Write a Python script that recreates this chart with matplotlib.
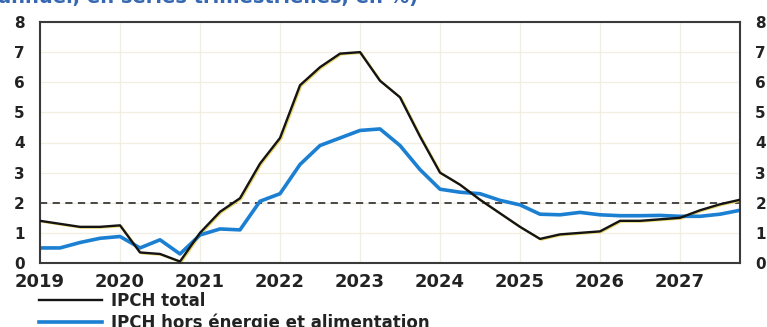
import matplotlib
matplotlib.use("Agg")
import matplotlib.pyplot as plt
import matplotlib.transforms as mtransforms
import numpy as np

# ---- data (quarterly, 2019Q1 .. 2027Q4) ----
quarters = np.arange(2019, 2028, 0.25)
ipch_total = [1.4, 1.3, 1.2, 1.2,
              1.25, 0.35, 0.3, 0.05,
              1.0, 1.7, 2.15, 3.3,
              4.15, 5.9, 6.5, 6.95,
              7.0, 6.05, 5.5, 4.2,
              3.0, 2.6, 2.1, 1.65,
              1.2, 0.8, 0.95, 1.0,
              1.05, 1.4, 1.4, 1.45,
              1.5, 1.75, 1.95, 2.1]
ipch_core = [0.5, 0.5, 0.68, 0.82,
             0.88, 0.5, 0.77, 0.3,
             0.93, 1.13, 1.1, 2.05,
             2.3, 3.27, 3.9, 4.15,
             4.4, 4.45, 3.9, 3.1,
             2.45, 2.35, 2.3, 2.08,
             1.93, 1.62, 1.6, 1.68,
             1.6, 1.57, 1.57, 1.58,
             1.55, 1.55, 1.62, 1.75]
target = 2.0
year_ticks = list(range(2019, 2028))
y_ticks = list(range(0, 9))
series_labels = ["IPCH total", "IPCH hors énergie et alimentation"]
title_text = "annuel, en séries trimestrielles, en %)"

W, H = 767, 327
fig = plt.figure(figsize=(W / 100, H / 100), dpi=100)
fig.patch.set_facecolor("white")
ax = fig.add_axes([40 / W, (H - 263) / H, 700 / W, 241 / H])

# faint grid
for yv in y_ticks:
    ax.axhline(yv, color="#f1efe2", lw=0.9, zorder=0)
for xv in year_ticks:
    ax.axvline(xv, color="#f1efe2", lw=0.9, zorder=0)

# target dashed line
ax.axhline(target, color="#3a3a3a", lw=1.3, ls=(0, (4, 3)), zorder=1)

# yellow scan halo on black line
shift = mtransforms.ScaledTranslation(1.2 / 100, -0.8 / 100, fig.dpi_scale_trans)
ax.plot(quarters, ipch_total, color="#e9d76a", lw=1.6, zorder=2,
        transform=ax.transData + shift, solid_joinstyle="round")
l1, = ax.plot(quarters, ipch_total, color="#141414", lw=1.7, zorder=3,
              solid_joinstyle="round")
l2, = ax.plot(quarters, ipch_core, color="#1b7fd2", lw=2.6, zorder=2.5,
              solid_joinstyle="round")

ax.set_xlim(2019, 2027.75)
ax.set_ylim(0, 8)
ax.set_yticks(y_ticks)
ax.set_xticks(year_ticks)
ax.set_xticklabels([str(y) for y in year_ticks])
ax.tick_params(axis="both", length=0, colors="#222222")
ax.tick_params(axis="y", labelsize=11, pad=11, labelleft=True, labelright=True)
ax.tick_params(axis="x", labelsize=13, pad=7)
for lab in ax.get_xticklabels() + ax.get_yticklabels():
    lab.set_fontweight("bold")
for t in ax.yaxis.get_major_ticks():
    t.label2.set_fontweight("bold")
    t.label2.set_fontsize(11)
    t.label2.set_color("#222222")
for s in ax.spines.values():
    s.set_color("#3a3a3a")
    s.set_linewidth(1.5)

# cut-off title at very top
fig.text(-2 / W, 1 - 3 / H, title_text, color="#3568b0", fontsize=14,
         fontweight="bold", ha="left", va="baseline")

leg = fig.legend([l1, l2], series_labels, loc="upper left",
                 bbox_to_anchor=(39 / W, 1 - 292 / H), frameon=False,
                 fontsize=12, handlelength=3.8, handletextpad=0.5,
                 labelspacing=0.2, borderpad=0, borderaxespad=0)
for t in leg.get_texts():
    t.set_fontweight("bold")
    t.set_color("#222222")

fig.savefig("out.png", dpi=100)
